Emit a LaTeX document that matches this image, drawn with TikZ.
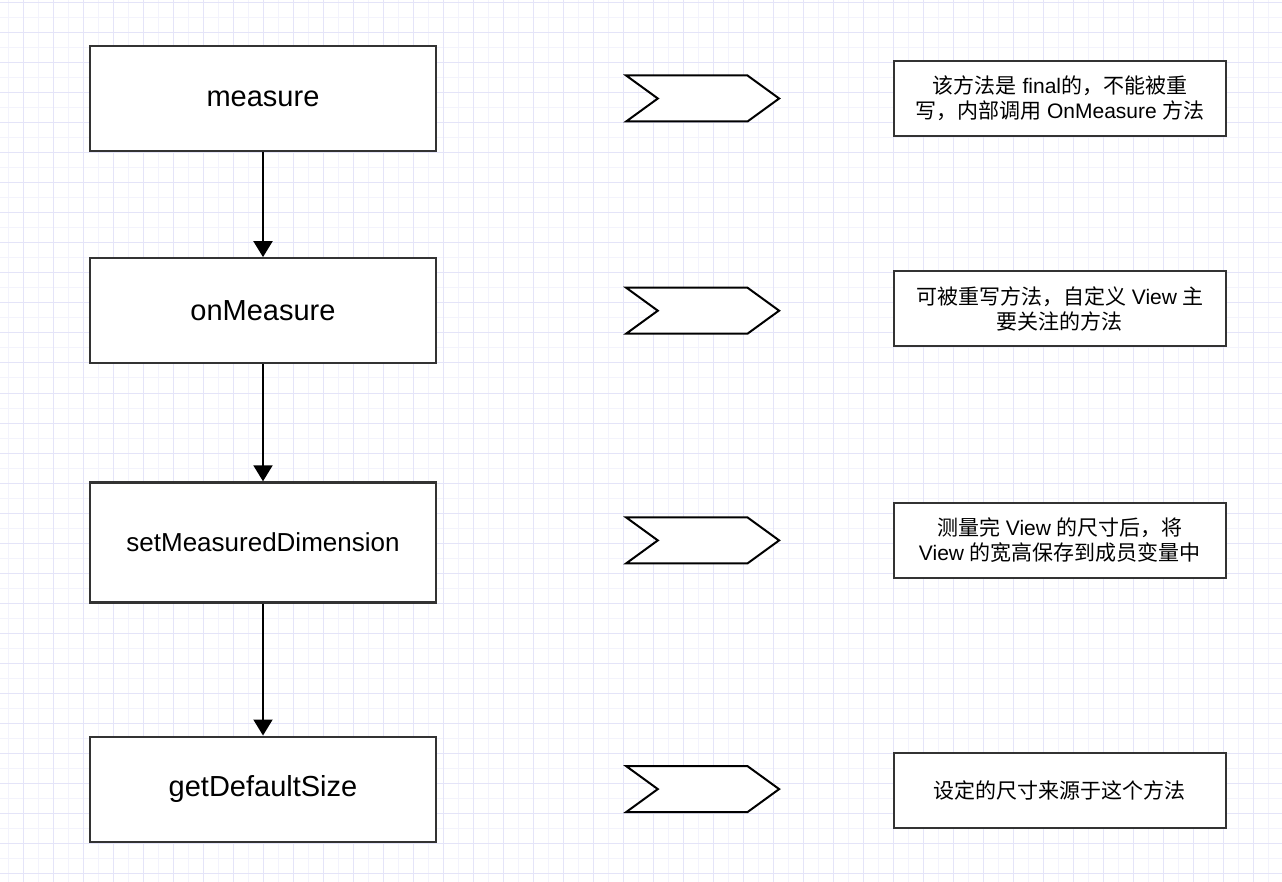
\documentclass[tikz,border=0pt]{standalone}
\usepackage{fontspec}
\setmainfont{Liberation Sans}
\newfontfamily\cjk{Noto Sans CJK SC}
\usepackage{tikz}
\usetikzlibrary{arrows.meta,positioning,shapes.symbols}
\definecolor{gridmajor}{RGB}{228,228,248}
\definecolor{gridminor}{RGB}{243,243,252}
\definecolor{edgegray}{RGB}{51,51,51}
\newcommand{\zh}[1]{{\cjk #1}}

\begin{document}
\begin{tikzpicture}[
  x=1pt, y=-1pt,
  stepbox/.style={rectangle, draw=edgegray, line width=2.2pt, fill=white, minimum width=346pt, minimum height=105pt, font=\fontsize{29}{34}\selectfont},
  tag/.style={signal, signal to=east, signal from=west, signal pointer angle=72, draw=black, line width=2pt, fill=white, minimum width=153pt, minimum height=46pt, inner sep=0pt},
  note/.style={rectangle, draw=edgegray, line width=2.2pt, fill=white, minimum width=332pt, minimum height=75pt, align=center, font=\fontsize{21}{25}\selectfont},
  arrow/.style={-{Triangle[width=19pt,length=16pt]}, line width=2pt},
]
  % grid paper
  \useasboundingbox (0,0) rectangle (1282,882);
  \fill[white] (0,0) rectangle (1282,882);
  \foreach \gx in {8,38,...,1282} \draw[gridminor, line width=1pt] (\gx,0) -- (\gx,882);
  \foreach \gy in {18,48,...,882} \draw[gridminor, line width=1pt] (0,\gy) -- (1282,\gy);
  \foreach \gx in {23,53,...,1282} \draw[gridmajor, line width=1pt] (\gx,0) -- (\gx,882);
  \foreach \gy in {3,33,...,882} \draw[gridmajor, line width=1pt] (0,\gy) -- (1282,\gy);

  % call chain
  \node[stepbox] (measure) at (263,98.5) {measure};
  \node[stepbox, below=105pt of measure] (onMeasure) {onMeasure};
  \node[stepbox, below=117pt of onMeasure, minimum height=120pt, font=\fontsize{26}{30}\selectfont] (setDim) {setMeasuredDimension};
  \node[stepbox, below=132pt of setDim] (getSize) {getDefaultSize};

  \draw[arrow] (measure) -- (onMeasure);
  \draw[arrow] (onMeasure) -- (setDim);
  \draw[arrow] (setDim) -- (getSize);

  % chevrons and notes
  \node[tag, right=219pt of measure] (tagMeasure) {};
  \node[tag, right=219pt of onMeasure] (tagOnMeasure) {};
  \node[tag, right=219pt of setDim, yshift=2pt] (tagSetDim) {};
  \node[tag, right=219pt of getSize] (tagGetSize) {};

  \node[note, right=112pt of tagMeasure] (noteMeasure) {\zh{该方法是} final\zh{的，不能被重}\\\zh{写，内部调用} OnMeasure \zh{方法}};
  \node[note, right=112pt of tagOnMeasure, yshift=2pt] (noteOnMeasure) {\zh{可被重写方法，自定义} View \zh{主}\\\zh{要关注的方法}};
  \node[note, right=112pt of tagSetDim] (noteSetDim) {\zh{测量完} View \zh{的尺寸后，将}\\View \zh{的宽高保存到成员变量中}};
  \node[note, right=112pt of tagGetSize, yshift=-1pt] (noteGetSize) {\zh{设定的尺寸来源于这个方法}};
\end{tikzpicture}
\end{document}
